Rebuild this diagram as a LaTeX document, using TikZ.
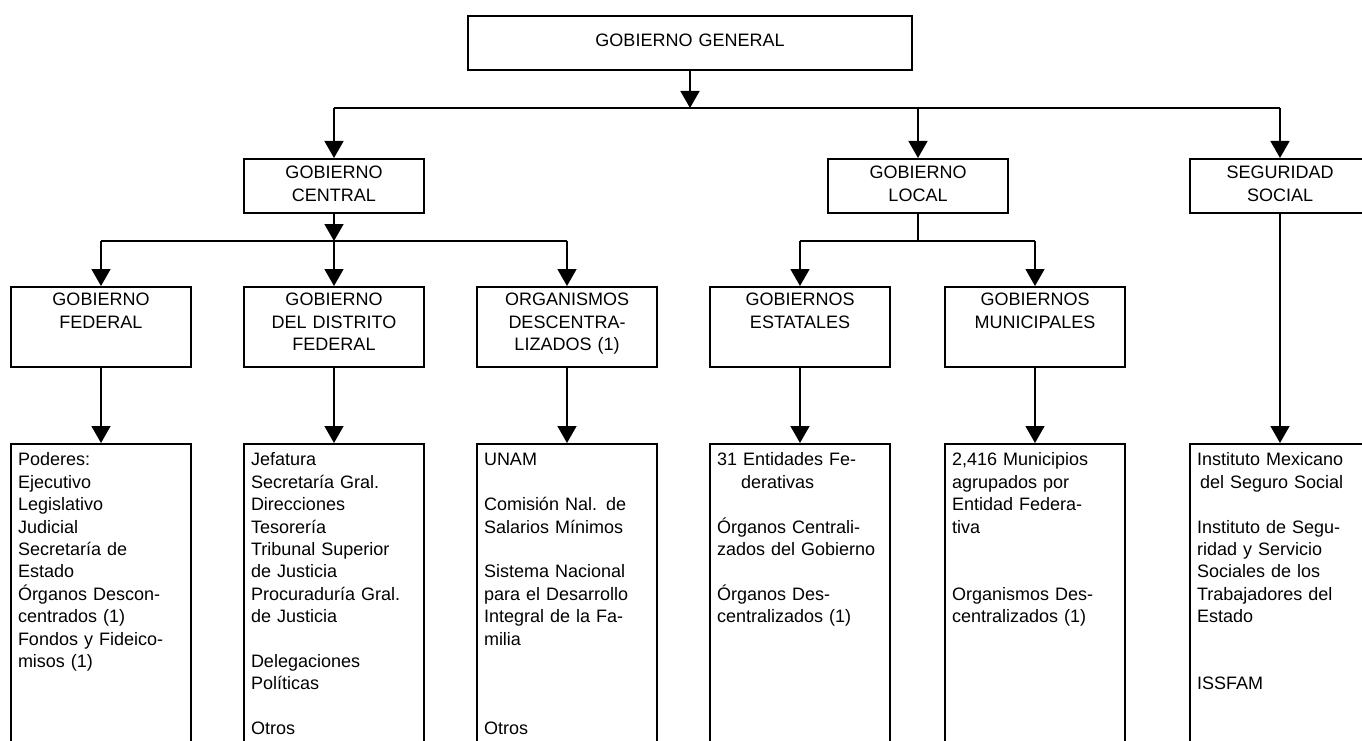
\documentclass[tikz,border=0pt]{standalone}
\usepackage{fontspec}
\setmainfont{Liberation Sans}
\usetikzlibrary{arrows.meta}

\begin{document}
\begin{tikzpicture}
			[
			x=1pt, y=-1pt,
			font=\fontsize{18pt}{22.4pt}\selectfont,
			link/.style={draw,line width=1.5pt},
			into/.style={-{Triangle[width=19pt,length=17pt]}}
			]
			
			% Frame of the chart
			\useasboundingbox (0,0) rectangle (1362,741);
			\clip (0,0) rectangle (1362,741);
			
			% Box styles: heading, sector and list boxes
			\tikzstyle{box}=[draw,line width=1.6pt,anchor=north,inner sep=0pt,align=center];
			\tikzstyle{head}=[box,text width=180pt,text height=20pt,text depth=34pt];
			\tikzstyle{sector}=[box,text width=180pt,text height=19pt,text depth=61pt];
			\tikzstyle{list}=[box,align=left,inner xsep=7pt,text width=166pt,text height=22pt,text depth=298pt];
			
			% Top level
			\node(gg)[box,text width=444pt,text height=31pt,text depth=23pt]at(690,15){GOBIERNO GENERAL};
			
			% Second level
			\node(gc)[head]at(334,158){GOBIERNO\\CENTRAL};
			\node(gl)[head]at(918,158){GOBIERNO\\LOCAL};
			\node(ss)[head]at(1280,158){SEGURIDAD\\SOCIAL};
			
			% Third level
			\node(gf)[sector]at(101,286){GOBIERNO\\FEDERAL};
			\node(gdf)[sector]at(334,286){GOBIERNO\\DEL DISTRITO\\FEDERAL};
			\node(od)[sector]at(567,286){ORGANISMOS\\DESCENTRA-\\LIZADOS (1)};
			\node(ge)[sector]at(800,286){GOBIERNOS\\ESTATALES};
			\node(gm)[sector]at(1035,286){GOBIERNOS\\MUNICIPALES};
			
			% Lists of entities
			\node(gf-list)[list]at(101,443){Poderes:\\Ejecutivo\\Legislativo\\Judicial\\Secretaría de\\Estado\\Órganos Descon-\\centrados (1)\\Fondos y Fideico-\\misos (1)};
			\node(gdf-list)[list]at(334,443){Jefatura\\Secretaría Gral.\\Direcciones\\Tesorería\\Tribunal Superior\\de Justicia\\Procuraduría Gral.\\de Justicia\\[22.4pt]Delegaciones\\Políticas\\[22.4pt]Otros};
			\node(od-list)[list]at(567,443){UNAM\\[22.4pt]Comisión Nal. de\\Salarios Mínimos\\[22.4pt]Sistema Nacional\\para el Desarrollo\\Integral de la Fa-\\milia\\[67.2pt]Otros};
			\node(ge-list)[list]at(800,443){31 Entidades Fe-\\\hspace*{24pt}derativas\\[22.4pt]Órganos Centrali-\\zados del Gobierno\\[22.4pt]Órganos Des-\\centralizados (1)};
			\node(gm-list)[list]at(1035,443){2,416 Municipios\\agrupados por\\Entidad Federa-\\tiva\\[44.8pt]Organismos Des-\\centralizados (1)};
			\node(ss-list)[list]at(1280,443){Instituto Mexicano\\\hspace*{3pt}del Seguro Social\\[22.4pt]Instituto de Segu-\\ridad y Servicio\\Sociales de los\\Trabajadores del\\Estado\\[44.8pt]ISSFAM};
			
			% Bars of the connectors
			\coordinate(bar1)at(0,108);
			\coordinate(bar2)at(0,241);
			
			% General to second level
			\draw[link,into](gg.south)--(gg.south|-bar1);
			\draw[link](gc.north|-bar1)--(ss.north|-bar1);
			\foreach \n in {gc, gl, ss} \draw[link,into](\n.north|-bar1)--(\n.north);
			
			% Central to third level
			\draw[link,into](gc.south)--(gc.south|-bar2);
			\draw[link](gf.north|-bar2)--(od.north|-bar2);
			\foreach \n in {gf, gdf, od} \draw[link,into](\n.north|-bar2)--(\n.north);
			
			% Local to third level
			\draw[link](gl.south)--(gl.south|-bar2);
			\draw[link](ge.north|-bar2)--(gm.north|-bar2);
			\foreach \n in {ge, gm} \draw[link,into](\n.north|-bar2)--(\n.north);
			
			% Down to the lists
			\foreach \n in {gf, gdf, od, ge, gm, ss} \draw[link,into](\n.south)--(\n-list.north);
\end{tikzpicture}
\end{document}
